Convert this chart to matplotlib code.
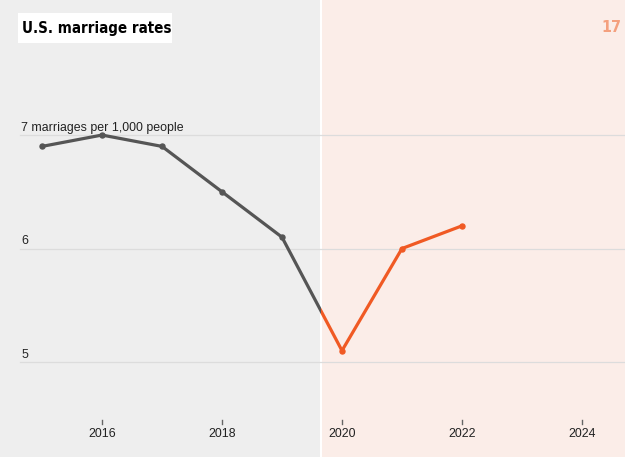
import matplotlib
matplotlib.use("Agg")
import matplotlib.pyplot as plt
from matplotlib.patches import Rectangle

years = [2015, 2016, 2017, 2018, 2019, 2020, 2021, 2022]
rates = [6.9, 7.0, 6.9, 6.5, 6.1, 5.1, 6.0, 6.2]
xticks = [2016, 2018, 2020, 2022, 2024]
yticks = [5, 6, 7]
ytick_labels = ["5", "6", "7 marriages per 1,000 people"]
split_year = 2019.65

GRAY_BG = "#eeeeee"
PINK_BG = "#fbede8"
LINE_GRAY = "#555555"
ORANGE = "#f05a24"

W, H = 625, 457
fig = plt.figure(figsize=(W / 100, H / 100), dpi=100)
ax = fig.add_axes([0, 0, 1, 1])
x0, x1 = 2014.3, 2024.717
y0, y1 = 4.163, 8.19
ax.set_xlim(x0, x1)
ax.set_ylim(y0, y1)
ax.axis("off")

ax.add_patch(Rectangle((x0, y0), split_year - x0, y1 - y0, color=GRAY_BG, zorder=0))
ax.add_patch(Rectangle((split_year, y0), x1 - split_year, y1 - y0, color=PINK_BG, zorder=0))
ax.axvline(split_year, color="white", lw=1.5, zorder=1)

# gridlines
gx0 = 2014.3 + 20 / 60
for yv, lab in zip(yticks, ytick_labels):
    ax.plot([gx0, x1], [yv, yv], color="#dcdcdc", lw=0.9, zorder=1)
    ax.text(gx0 + 0.02, yv + 0.012, lab, fontsize=8.9, color="#222222", ha="left", va="bottom",
            family="Liberation Sans", zorder=3)

# x ticks
for xv in xticks:
    ax.plot([xv, xv], [4.455, 4.49], color="#666666", lw=1, zorder=2)
    ax.text(xv, 4.366, str(xv), fontsize=8.9, color="#222222",
            ha="center", va="center", family="Liberation Sans", zorder=3)

# lines with split colour
left_clip = Rectangle((x0, y0), split_year - x0, y1 - y0, transform=ax.transData)
right_clip = Rectangle((split_year, y0), x1 - split_year, y1 - y0, transform=ax.transData)
l1, = ax.plot(years, rates, color=LINE_GRAY, lw=2.3, marker="o", ms=3.6, zorder=4,
              solid_capstyle="butt")
l1.set_clip_path(left_clip)
l2, = ax.plot(years, rates, color=ORANGE, lw=2.3, marker="o", ms=3.6, zorder=4,
              solid_capstyle="butt")
l2.set_clip_path(right_clip)

# title
fig.patches.append(Rectangle((18 / W, 1 - 43 / H), 154 / W, 30 / H, transform=fig.transFigure,
                             facecolor="white", edgecolor="none", zorder=5))
fig.text(22 / W, 1 - 28.5 / H, "U.S. marriage rates", fontsize=10.8, fontweight="bold",
         family="DejaVu Sans", stretch="condensed", ha="left", va="center", color="black",
         zorder=6)
fig.text(1 - 4 / W, 1 - 28 / H, "17", fontsize=11.5, fontweight="bold",
         family="DejaVu Sans", stretch="condensed", ha="right", va="center", color="#f4a07e")

fig.savefig("out.png", dpi=100)
